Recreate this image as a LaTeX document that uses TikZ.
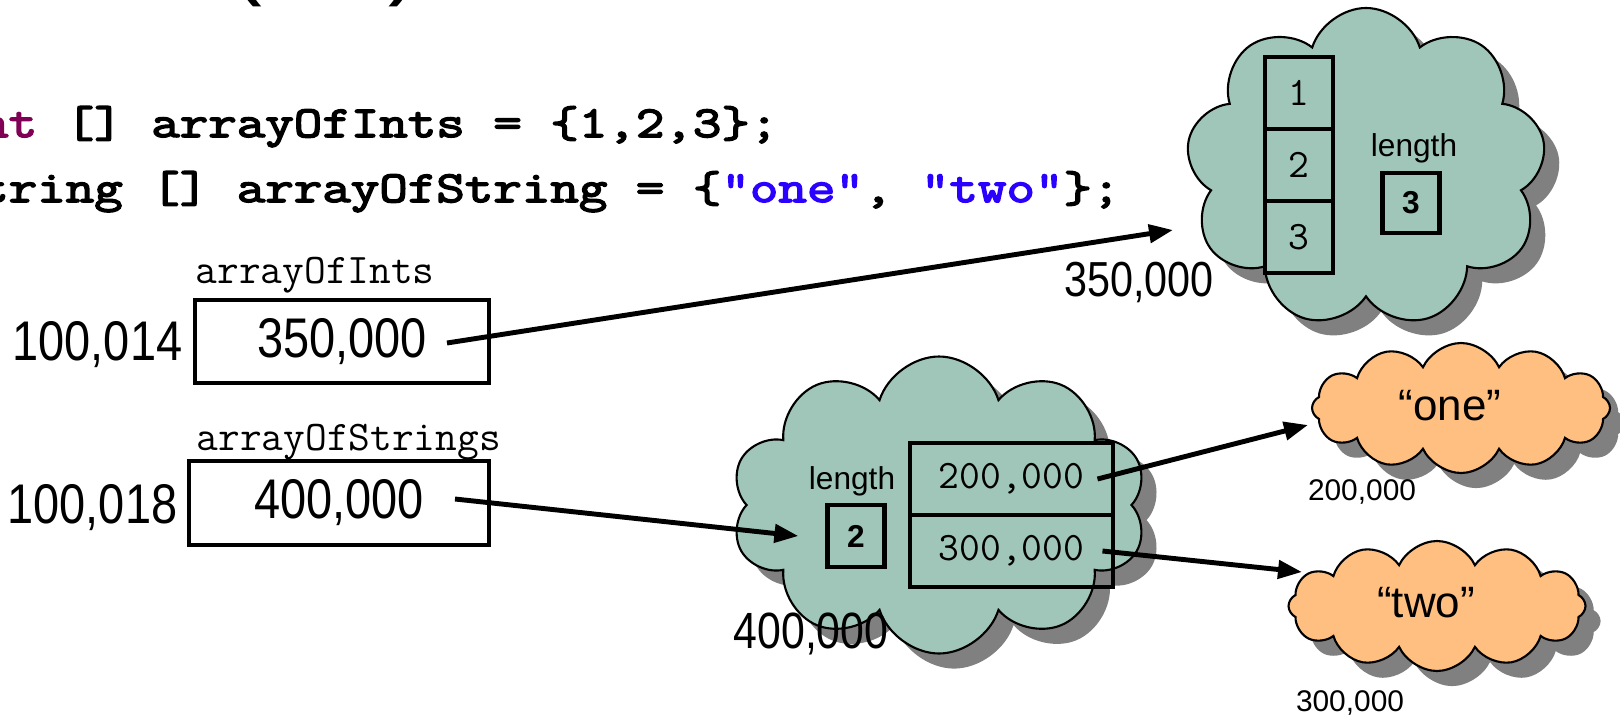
\documentclass[tikz,border=0pt]{standalone}
\usepackage{fontspec}
\setmainfont{Liberation Sans}
\newfontfamily\numfont{Liberation Sans}[FakeStretch=0.84]
\newfontfamily\codefont{Latin Modern Mono}[FakeStretch=1.25,FakeBold=3.5]
\newfontfamily\cellfont{Latin Modern Mono}
\usetikzlibrary{shapes.symbols,shadows,arrows.meta}
\definecolor{heapgreen}{RGB}{160,198,186}
\definecolor{heaporange}{RGB}{255,191,128}
\definecolor{kwcolor}{RGB}{127,0,85}
\definecolor{strcolor}{RGB}{42,0,255}

\begin{document}
\begin{tikzpicture}[
    heap/.style={cloud, cloud puffs=10, cloud puff arc=145, cloud ignores aspect, draw, line width=0.6pt, fill=heapgreen,
        drop shadow={shadow xshift=4.3pt, shadow yshift=-4.3pt, fill=black!50, opacity=1}},
    strheap/.style={heap, fill=heaporange, cloud puffs=12, cloud puff arc=130},
    varbox/.style={draw, line width=1.2pt, inner sep=0pt, font=\numfont\fontsize{15.9}{17}\selectfont},
    cell/.style={draw, line width=1.4pt, inner sep=0pt, font=\cellfont\fontsize{11.5}{12}\selectfont},
    lenbox/.style={draw, line width=1.2pt, inner sep=0pt, minimum width=0.57cm, minimum height=0.6cm,
        font=\bfseries\fontsize{9}{10}\selectfont},
    ptr/.style={-{Triangle[length=0.24cm,width=0.18cm]}, line width=1.4pt},
    txt/.style={inner sep=0pt}
]
        \def\intcellw{0.68cm}
        \def\strcellw{2.03cm}
        \def\cellh{0.72cm}

        \useasboundingbox (0,0) rectangle (16.2,7.18);

        \node[txt, anchor=south, font=\fontsize{28}{30}\selectfont] (lparen) at (2.46,7.10) {(};
        \node[txt, anchor=south, font=\fontsize{28}{30}\selectfont] (rparen) at (4.05,7.10) {)};

        \node[txt, anchor=base west, font=\codefont\fontsize{12.6}{14}\selectfont] (code1) at (-0.49,5.81)
            {\textcolor{kwcolor}{int} [] arrayOfInts = \{1,2,3\};};
        \node[txt, anchor=base west, font=\codefont\fontsize{12.6}{14}\selectfont] (code2) at (-0.49,5.16)
            {String [] arrayOfString = \{\textcolor{strcolor}{"one"}, \textcolor{strcolor}{"two"}\};};

        \node[varbox, minimum width=2.94cm, minimum height=0.83cm] (ints) at (3.42,3.765) {350,000};
        \node[txt, anchor=base west, font=\cellfont\fontsize{12}{13}\selectfont] (intsname) at (1.95,4.35) {arrayOfInts};
        \node[txt, anchor=east, font=\numfont\fontsize{15.9}{17}\selectfont] (intsaddr) at (1.83,3.73) {100,014};

        \node[varbox, minimum width=3.00cm, minimum height=0.84cm] (strs) at (3.39,2.15) {400,000};
        \node[txt, anchor=base west, font=\cellfont\fontsize{12}{13}\selectfont] (strsname) at (1.96,2.68) {arrayOfStrings};
        \node[txt, anchor=east, font=\numfont\fontsize{15.9}{17}\selectfont] (strsaddr) at (1.78,2.10) {100,018};

        \node[heap, cloud puffs=9, minimum width=3.6cm, minimum height=3.2cm] (intsheap) at (13.66,5.50) {};
        \foreach \v in {1,2,3}
            \node[cell, minimum width=\intcellw, minimum height=\cellh] (int\v) at (12.99,6.97-0.72*\v) {\v};
        \node[txt, font=\fontsize{9}{10}\selectfont] (intslen) at (14.14,5.70) {length};
        \node[lenbox] (intslenval) at (14.11,5.15) {3};
        \node[txt, font=\numfont\fontsize{14}{15}\selectfont] (intsheapaddr) at (11.39,4.36) {350,000};

        \node[heap, minimum width=4.16cm, minimum height=2.97cm] (strsheap) at (9.39,2.13) {};
        \node[txt, font=\fontsize{9}{10}\selectfont] (strslen) at (8.52,2.37) {length};
        \node[lenbox, minimum height=0.62cm] (strslenval) at (8.56,1.82) {2};
        \node[cell, minimum width=\strcellw, minimum height=\cellh] (str1) at (10.115,2.39) {200,000};
        \node[cell, minimum width=\strcellw, minimum height=\cellh] (str2) at (10.115,1.67) {300,000};
        \node[txt, font=\numfont\fontsize{14.5}{15}\selectfont] (strsheapaddr) at (8.11,0.84) {400,000};

        \node[strheap, minimum width=2.98cm, minimum height=1.3cm] (one) at (14.61,3.10) {};
        \node[txt, font=\fontsize{12.5}{13}\selectfont] (onetext) at (14.50,3.12) {“one”};
        \node[txt, font=\fontsize{8.5}{9}\selectfont] (oneaddr) at (13.62,2.26) {200,000};

        \node[strheap, minimum width=2.97cm, minimum height=1.3cm] (two) at (14.37,1.12) {};
        \node[txt, font=\fontsize{12.5}{13}\selectfont] (twotext) at (14.26,1.15) {“two”};
        \node[txt, font=\fontsize{8.5}{9}\selectfont] (twoaddr) at (13.50,0.15) {300,000};

        \coordinate (ptr1) at (4.47,3.75);
        \coordinate (tip1) at (11.73,4.88);
        \coordinate (ptr2) at (4.55,2.19);
        \coordinate (tip3) at (13.08,2.93);
        \coordinate (tip4) at (13.02,1.46);
        \draw[ptr] (ptr1) -- (tip1);
        \draw[ptr] (ptr2) -- ([xshift=-0.27cm]strslenval.west);
        \draw[ptr] ([xshift=-0.18cm]str1.east) -- (tip3);
        \draw[ptr] ([xshift=-0.13cm]str2.east) -- (tip4);
    \end{tikzpicture}
\end{document}
